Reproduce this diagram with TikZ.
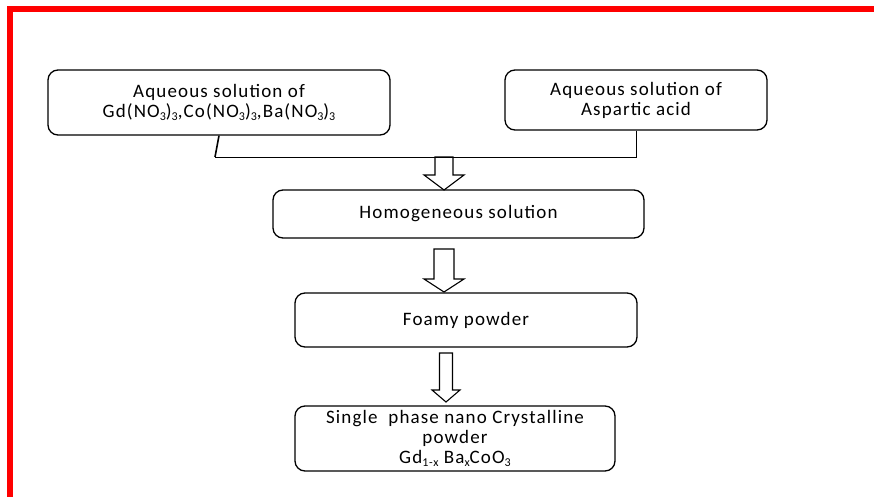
\documentclass[tikz,border=0pt]{standalone}
\usepackage{fontspec}
\setmainfont{Carlito}[LetterSpace=6]
\newcommand{\openarrow}[5]{% top centre, length, half shaft, half head, head length
  \draw[arrowline] (#1) ++(-#3,0) -- ++(0,#2-#5) -- ++(-#4+#3,0) -- ++(#4,#5)
    -- ++(#4,-#5) -- ++(-#4+#3,0) -- ++(0,-#2+#5) -- cycle;}
\newcommand{\lowsub}[1]{\raisebox{-0.25ex}{\fontsize{12}{12}\selectfont #1}}
\tikzset{
  stepbox/.style={draw, line width=1.3pt, rounded corners=10pt, align=center,
    inner sep=0pt, font=\fontsize{19}{20}\selectfont},
  arrowline/.style={draw, line width=1.1pt, line join=miter},
  link/.style={line width=0.8pt}
}
\begin{document}
\begin{tikzpicture}[x=1pt,y=-1pt]
\useasboundingbox (0,0) rectangle (874,497);

% frame
\draw[red, line width=6pt, line join=miter] (10,497) -- (10,9) -- (874,9);

% boxes
\node[stepbox, minimum width=342pt, minimum height=65pt] (nitrates) at (219,102.5)
  {Aqueous solution of\\Gd(NO\lowsub{3})\lowsub{3},Co(NO\lowsub{3})\lowsub{3},Ba(NO\lowsub{3})\lowsub{3}};
\node[stepbox, minimum width=262pt, minimum height=60pt] (acid) at (636,100)
  {Aqueous solution of\\Aspartic acid};
\node[stepbox, minimum width=371pt, minimum height=48pt] (homog) at (458.5,214)
  {Homogeneous solution};
\node[stepbox, minimum width=342pt, minimum height=54pt] (foam) at (466,320)
  {Foamy powder};
\node[stepbox, minimum width=320pt, minimum height=65pt] (product) at (455,438.5)
  {Single~ phase nano Crystalline\\powder\\Gd\lowsub{1-x} Ba\lowsub{x}CoO\lowsub{3}};

% joining lines
\coordinate (tail) at (215,157);
\coordinate (join) at (636,157);
\draw[line width=1.6pt] (nitrates.south) -- (tail);
\draw[link] (acid.south) -- (join) -- (tail);

% hollow arrows
\openarrow{444,157}{33}{9}{20}{15}
\openarrow{444,249}{43}{10}{20}{13}
\openarrow{446,353}{49}{6.5}{14}{12}
\end{tikzpicture}
\end{document}
